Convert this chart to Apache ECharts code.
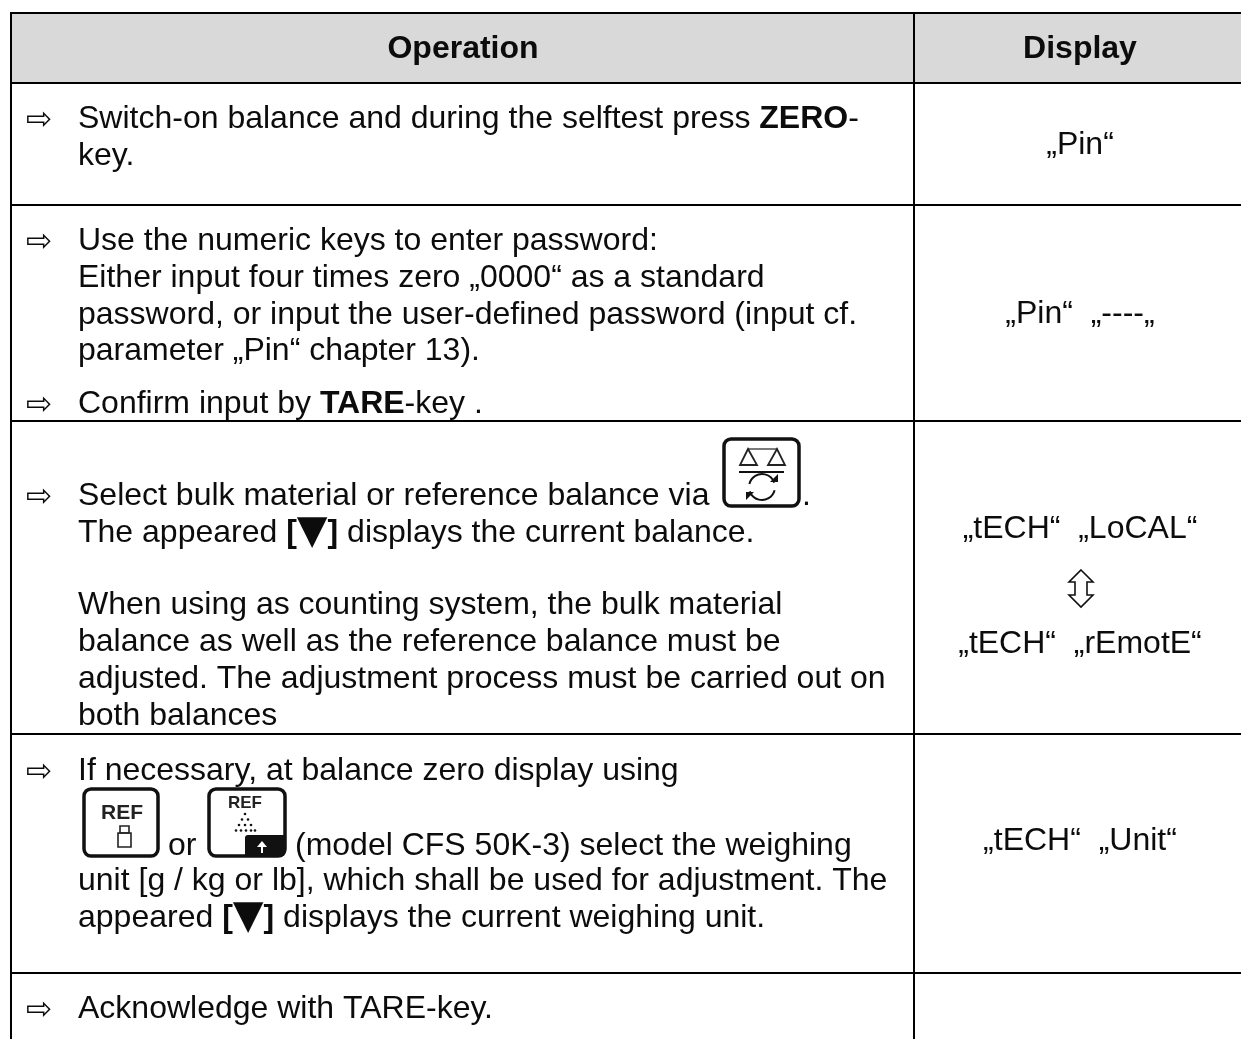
<!DOCTYPE html>
<html><head><meta charset="utf-8">
<style>html,body{margin:0;padding:0;background:#fff}#c{width:1241px;height:1039px}</style>
<script src="https://cdn.jsdelivr.net/npm/echarts@6/dist/echarts.min.js"></script>
</head><body><div id="c"></div>
<script>
// ---- content ----
const headers = ['Operation', 'Display'];
const operationLines = [
  '{a|Switch-on balance and during the selftest press }{b|ZERO}{a|-}',
  '{a|key.}',
  '{a|Use the numeric keys to enter password:}',
  '{a|Either input four times zero „0000“ as a standard}',
  '{a|password, or input the user-defined password (input cf.}',
  '{a|parameter „Pin“ chapter 13).}',
  '{a|Confirm input by }{b|TARE}{a|-key .}',
  '{a|Select bulk material or reference balance via}',
  '{a|The appeared }{b|[}{t|▼}{b|]}{a| displays the current balance.}',
  '{a|When using as counting system, the bulk material}',
  '{a|balance as well as the reference balance must be}',
  '{a|adjusted. The adjustment process must be carried out on}',
  '{a|both balances}',
  '{a|If necessary, at balance zero display using}',
  '{a|unit [g / kg or lb], which shall be used for adjustment. The}',
  '{a|appeared }{b|[}{t|▼}{b|]}{a| displays the current weighing unit.}',
  '{a|Acknowledge with TARE-key.}'
];
const inlineTexts = ['.', 'or', '(model CFS 50K-3) select the weighing'];
const displayLines = ['„Pin“', '„Pin“  „----„', '„tECH“  „LoCAL“', '„tECH“  „rEmotE“', '„tECH“  „Unit“'];
const arrowGlyph = '⇨';

// ---- layout (text line middles and rule positions) ----
const opMiddles = [119,156, 241,278,315,351,404, 496,533, 605,642,679,716, 771,881,918, 1009];
const bulletMiddles = [119,241,404,496,771,1009];
const displayMiddles = [145,314,529,644,841];
const inlinePos = [[802,496],[168,846],[295,846]];
const rowRules = [13,83,205,421,734,973];
const FS = 32, FONT = '"Liberation Sans", Arial, sans-serif', INK = '#0c0c0c';

const g = [];
g.push({type:'rect',shape:{x:11,y:13,width:1230,height:70},style:{fill:'#d9d9d9'}});
rowRules.forEach(y=>g.push({type:'line',shape:{x1:10,y1:y,x2:1241,y2:y},style:{stroke:'#000',lineWidth:2}}));
g.push({type:'line',shape:{x1:11,y1:12,x2:11,y2:1039},style:{stroke:'#000',lineWidth:2}});
g.push({type:'line',shape:{x1:914,y1:12,x2:914,y2:1039},style:{stroke:'#000',lineWidth:2}});

const txt=(text,x,y,opt={})=>g.push({type:'text',x,y,style:Object.assign({text,fill:INK,font:`${FS}px ${FONT}`,align:'left',verticalAlign:'middle'},opt)});

txt(headers[0],463,49,{font:`bold ${FS}px ${FONT}`,align:'center'});
txt(headers[1],1080,49,{font:`bold ${FS}px ${FONT}`,align:'center'});

const rich={
  a:{font:`${FS}px ${FONT}`,fill:INK,lineHeight:37},
  b:{font:`bold ${FS}px ${FONT}`,fill:INK,lineHeight:37},
  t:{font:`bold 40px "DejaVu Sans"`,fill:INK,lineHeight:37}
};
operationLines.forEach((t,i)=>{
  g.push({type:'text',x:78,y:opMiddles[i],style:{text:t,rich,align:'left',verticalAlign:'middle'}});
});
bulletMiddles.forEach(m=>txt(arrowGlyph,26,m+2,{font:'31px "DejaVu Sans"'}));
inlineTexts.forEach((t,i)=>txt(t,inlinePos[i][0],inlinePos[i][1]));
displayLines.forEach((t,i)=>txt(t,1080,displayMiddles[i],{align:'center'}));

// up-down outline arrow between the two display states
g.push({type:'polygon',shape:{points:[[1081,570],[1093,582],[1087,582],[1087,595],[1093,595],[1081,607],[1069,595],[1075,595],[1075,582],[1069,582]]},
  style:{fill:'#fff',stroke:'#111',lineWidth:1.6}});

// ---- key icons ----
const key=(x,y,w,h)=>g.push({type:'rect',shape:{x,y,width:w,height:h,r:7},style:{fill:'#fff',stroke:'#111',lineWidth:3.5}});
// balance key
key(724,439,75,67);
const s1={stroke:'#222',lineWidth:1.8,fill:'none'};
g.push({type:'polygon',shape:{points:[[748,449],[740,465],[757,465]]},style:s1});
g.push({type:'polygon',shape:{points:[[777,449],[768,465],[785,465]]},style:s1});
g.push({type:'line',shape:{x1:748,y1:449,x2:777,y2:449},style:{stroke:'#222',lineWidth:1.2}});
g.push({type:'line',shape:{x1:739,y1:472,x2:784,y2:472},style:{stroke:'#111',lineWidth:2}});
g.push({type:'arc',shape:{cx:762,cy:487,r:13,startAngle:-2.9,endAngle:-0.35},style:{stroke:'#111',lineWidth:2,fill:'none'}});
g.push({type:'arc',shape:{cx:762,cy:487,r:13,startAngle:0.25,endAngle:2.8},style:{stroke:'#111',lineWidth:2,fill:'none'}});
g.push({type:'polygon',shape:{points:[[770,482],[778,482],[778,474]]},style:{fill:'#111'}});
g.push({type:'polygon',shape:{points:[[754,492],[746,492],[746,500]]},style:{fill:'#111'}});
// REF weight key
key(84,789,74,67);
txt('REF',122,813,{font:`bold 21px ${FONT}`,align:'center',fill:'#222'});
g.push({type:'rect',shape:{x:120,y:826,width:9,height:7},style:{fill:'none',stroke:'#222',lineWidth:1.6}});
g.push({type:'rect',shape:{x:118,y:833,width:13,height:14},style:{fill:'none',stroke:'#222',lineWidth:1.6}});
// REF pile key
key(209,789,76,67);
txt('REF',245,803,{font:`bold 17px ${FONT}`,align:'center',fill:'#222'});
[[245],[242,248],[239,245,251],[236,241,246,251,255]].forEach((row,i)=>row.forEach(x=>
  g.push({type:'circle',shape:{cx:x,cy:814+i*5.5,r:1.3},style:{fill:'#111'}})));
g.push({type:'rect',shape:{x:245,y:835,width:41,height:22,r:[3,0,6,0]},style:{fill:'#111'}});
g.push({type:'polygon',shape:{points:[[262,841],[257,847],[267,847]]},style:{fill:'#fff'}});
g.push({type:'rect',shape:{x:261,y:846,width:2,height:7},style:{fill:'#fff'}});

const chart=echarts.init(document.getElementById('c'),null,{renderer:'canvas'});
chart.setOption({animation:false,backgroundColor:'#fff',graphic:{elements:g}});
</script></body></html>
